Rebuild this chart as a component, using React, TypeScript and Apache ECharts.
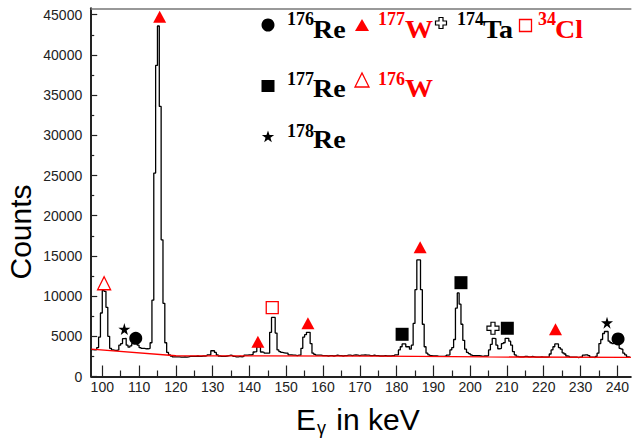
import React, { useEffect, useRef } from "react";
import * as echarts from "echarts";

// Spectrum: histogram bins of 0.5 keV starting at 97 keV
const binStart = 97;
const binWidth = 0.5;
const counts097 = [3350, 3300, 3350, 3600, 4900, 7900];
const counts100 = [10700, 10600, 8600, 5000, 3500, 3300, 3250, 3250, 3300, 3900, 4100, 4700, 4750, 3900, 3650, 3800, 4100, 4300, 4300, 3900];
const counts110 = [3600, 3500, 3500, 3450, 3450, 3500, 4200, 9500, 25300, 38700, 43600, 33600, 17000, 9100, 4200, 3000, 2700, 2550, 2450, 2450];
const counts120 = [2450, 2450, 2400, 2400, 2450, 2400, 2450, 2500, 2500, 2500, 2500, 2550, 2500, 2500, 2550, 2550, 2600, 2700, 2700, 3200];
const counts130 = [3200, 3000, 2700, 2550, 2500, 2500, 2500, 2550, 2600, 2650, 2600, 2500, 2450, 2450, 2500, 2450, 2500, 2650, 2650, 2700];
const counts140 = [2700, 2750, 3050, 3100, 3700, 3700, 3050, 3000, 2900, 2900, 2900, 5500, 7350, 7350, 5400, 3300, 3100, 3000, 2950, 2900];
const counts150 = [2900, 2700, 2700, 2650, 2650, 2600, 2650, 2650, 3500, 4900, 5200, 5500, 5500, 4100, 2900, 2750, 2650, 2650, 2650, 2600];
const counts160 = [2600, 2600, 2550, 2600, 2600, 2550, 2600, 2650, 2600, 2600, 2550, 2600, 2600, 2650, 2650, 2600, 2650, 2700, 2650, 2600];
const counts170 = [2650, 2650, 2700, 2650, 2650, 2600, 2600, 2650, 2600, 2600, 2550, 2550, 2550, 2600, 2550, 2550, 2550, 2600, 2600, 2700];
const counts180 = [2700, 3300, 3700, 4050, 4050, 3700, 3700, 3400, 3900, 6600, 10800, 14500, 14500, 10800, 6500, 3700, 2900, 2700, 2600, 2550];
const counts190 = [2550, 2550, 2500, 2500, 2500, 2500, 2550, 2650, 2700, 3300, 3600, 4600, 8500, 10400, 9000, 6500, 4500, 3400, 3000, 2850];
const counts200 = [2700, 2600, 2600, 2600, 2600, 2550, 2500, 2550, 2550, 2600, 3300, 4000, 4750, 4700, 3900, 3450, 3500, 4100, 4200, 4750];
const counts210 = [4750, 4400, 3900, 3100, 2700, 2500, 2450, 2450, 2450, 2500, 2500, 2450, 2450, 2500, 2450, 2400, 2400, 2400, 2450, 2400];
const counts220 = [2400, 2400, 2450, 2800, 3300, 3700, 4050, 4050, 3600, 3400, 2950, 2800, 2550, 2500, 2400, 2400, 2400, 2400, 2350, 2400];
const counts230 = [2400, 2650, 2700, 2700, 2600, 2400, 2400, 2350, 2500, 2900, 4100, 4600, 5350, 5600, 5600, 4400, 4200, 4100, 4300, 4350];
const counts240 = [4000, 3500, 3400, 2900, 2700, 2450, 2400];

const spectrum = [
  ...counts097, ...counts100, ...counts110, ...counts120, ...counts130, ...counts140,
  ...counts150, ...counts160, ...counts170, ...counts180, ...counts190, ...counts200,
  ...counts210, ...counts220, ...counts230, ...counts240,
];

// Red background fit
const bgEnergy = [97, 120, 175, 205, 243.7];
const bgCounts = [3400, 2580, 2530, 2430, 2380];

// Peak identification markers
const re176E = [109.1, 240.2];
const re176C = [4750, 4670];
const w177E = [115.6, 142.3, 155.9, 186.4, 223.2];
const w177C = [44760, 4330, 6620, 16070, 5870];
const ta174E = [206.2];
const ta174C = [6000];
const cl34E = [146.2];
const cl34C = [8560];
const re177E = [181.5, 197.5, 210.1];
const re177C = [5250, 11670, 6000];
const w176E = [100.5];
const w176C = [11600];
const re178E = [106.0, 237.2];
const re178C = [5900, 6700];

const xMajor = [100, 110, 120, 130, 140, 150, 160, 170, 180, 190, 200, 210, 220, 230, 240];
const xMinor = [105, 115, 125, 135, 145, 155, 165, 175, 185, 195, 205, 215, 225, 235];
const yMajor = [0, 5000, 10000, 15000, 20000, 25000, 30000, 35000, 40000, 45000];
const yMinor = [2500, 7500, 12500, 17500, 22500, 27500, 32500, 37500, 42500];

const STAR = "path://M50,0 L61,35 L98,35 L68,57 L79,91 L50,70 L21,91 L32,57 L2,35 L39,35 Z";
const CROSS = "path://M33,0 L67,0 L67,33 L100,33 L100,67 L67,67 L67,100 L33,100 L33,67 L0,67 L0,33 L33,33 Z";

function starPts(cx: number, cy: number, R: number, r: number) {
  const pts: number[][] = [];
  for (let i = 0; i < 10; i++) {
    const a = -Math.PI / 2 + (i * Math.PI) / 5;
    const rr = i % 2 === 0 ? R : r;
    pts.push([cx + rr * Math.cos(a), cy + rr * Math.sin(a)]);
  }
  return pts;
}
function crossPts(cx: number, cy: number, h: number, a: number) {
  return [
    [cx - a, cy - h], [cx + a, cy - h], [cx + a, cy - a], [cx + h, cy - a], [cx + h, cy + a],
    [cx + a, cy + a], [cx + a, cy + h], [cx - a, cy + h], [cx - a, cy + a], [cx - h, cy + a],
    [cx - h, cy - a], [cx - a, cy - a],
  ];
}

const SERIF = '"Liberation Serif", "Times New Roman", serif';
const SANS = '"Liberation Sans", Arial, sans-serif';

function supText(x: number, y: number, text: string, fill: string) {
  return { type: "text", x, y, z: 100, style: { text, fill, fontFamily: SERIF, fontWeight: "bold", fontSize: 18, align: "left", verticalAlign: "middle" } };
}
function mainText(x: number, y: number, text: string, fill: string) {
  return { type: "text", x, y, z: 100, scaleX: 1.12, style: { text, fill, fontFamily: SERIF, fontWeight: "bold", fontSize: 25, align: "left", verticalAlign: "middle" } };
}

export default function App() {
  const ref = useRef<HTMLDivElement>(null);
  useEffect(() => {
    if (!ref.current) return;
    const chart = echarts.init(ref.current, null, { renderer: "svg" });
    const specData = spectrum.map((c, i) => [binStart + i * binWidth, c]);
    specData.push([binStart + spectrum.length * binWidth, spectrum[spectrum.length - 1]]);
    const pairs = (e: number[], c: number[]) => e.map((v, i) => [v, c[i]]);
    const xMin = 97, xMax = 243.66, yMax = 45800;
    const axisColor = "#222";
    const plain = (v: number) => String(v);

    chart.setOption({
      animation: false,
      backgroundColor: "#ffffff",
      grid: { left: 91.24, right: 0, top: 8.3, bottom: 61.5 },
      xAxis: [
        {
          type: "value", min: xMin, max: xMax, position: "bottom",
          axisLine: { show: true, lineStyle: { color: axisColor, width: 2 } },
          axisTick: { show: true, inside: true, length: 11, customValues: xMajor, lineStyle: { color: axisColor, width: 1.2 } },
          axisLabel: { show: true, customValues: xMajor, formatter: plain, fontSize: 14, color: "#222", fontFamily: SANS, margin: 3 },
          splitLine: { show: false },
        },
        {
          type: "value", min: xMin, max: xMax, position: "bottom",
          axisLine: { show: false },
          axisTick: { show: true, inside: true, length: 6, customValues: xMinor, lineStyle: { color: axisColor, width: 1.2 } },
          axisLabel: { show: false },
          splitLine: { show: false },
        },
        {
          type: "value", min: xMin, max: xMax, position: "top",
          axisLine: { show: true, lineStyle: { color: "#777", width: 1.5 } },
          axisTick: { show: false }, axisLabel: { show: false }, splitLine: { show: false },
        },
      ],
      yAxis: [
        {
          type: "value", min: 0, max: yMax, position: "left",
          axisLine: { show: true, lineStyle: { color: axisColor, width: 2 } },
          axisTick: { show: true, inside: true, length: 6, customValues: yMajor, lineStyle: { color: axisColor, width: 1.2 } },
          axisLabel: { show: true, customValues: yMajor, formatter: plain, fontSize: 14, color: "#222", fontFamily: SANS, margin: 9 },
          splitLine: { show: false },
        },
        {
          type: "value", min: 0, max: yMax, position: "left",
          axisLine: { show: false },
          axisTick: { show: true, inside: true, length: 3, customValues: yMinor, lineStyle: { color: axisColor, width: 1.2 } },
          axisLabel: { show: false }, splitLine: { show: false },
        },
      ],
      series: [
        {
          type: "line", step: "end", data: specData, symbol: "none", xAxisIndex: 0, yAxisIndex: 0,
          lineStyle: { color: "#000", width: 1.3 }, z: 2, silent: true,
        },
        {
          type: "line", data: pairs(bgEnergy, bgCounts), symbol: "none", xAxisIndex: 0, yAxisIndex: 0,
          lineStyle: { color: "#ff0000", width: 1.3 }, z: 3, silent: true,
        },
        { type: "scatter", data: pairs(re176E, re176C), symbol: "circle", symbolSize: 13, itemStyle: { color: "#000", opacity: 1 }, z: 5 },
        { type: "scatter", data: pairs(w177E, w177C), symbol: "triangle", symbolSize: [13, 12], itemStyle: { color: "#ff0000", opacity: 1 }, z: 5 },
        { type: "scatter", data: pairs(ta174E, ta174C), symbol: CROSS, symbolSize: 12, itemStyle: { color: "#fff", borderColor: "#000", borderWidth: 1.2, opacity: 1 }, z: 5 },
        { type: "scatter", data: pairs(cl34E, cl34C), symbol: "rect", symbolSize: 12, itemStyle: { color: "#fff", borderColor: "#ff0000", borderWidth: 1.3, opacity: 1 }, z: 5 },
        { type: "scatter", data: pairs(re177E, re177C), symbol: "rect", symbolSize: 13, itemStyle: { color: "#000", opacity: 1 }, z: 5 },
        { type: "scatter", data: pairs(w176E, w176C), symbol: "triangle", symbolSize: [13, 13], itemStyle: { color: "#fff", borderColor: "#ff0000", borderWidth: 1.3, opacity: 1 }, z: 5 },
        { type: "scatter", data: pairs(re178E, re178C), symbol: STAR, symbolSize: 12, itemStyle: { color: "#000", opacity: 1 }, z: 5 },
      ],
      graphic: [
        // Axis titles
        { type: "text", x: 20, y: 232, rotation: Math.PI / 2, style: { text: "Counts", fontFamily: SANS, fontSize: 30, fill: "#000", align: "center", verticalAlign: "middle" } },
        { type: "text", x: 296, y: 419, style: { text: "E", fontFamily: SANS, fontSize: 30, fill: "#000", align: "left", verticalAlign: "middle" } },
        { type: "text", x: 317, y: 428, style: { text: "γ", fontFamily: SANS, fontSize: 18, fill: "#000", align: "left", verticalAlign: "middle" } },
        { type: "text", x: 328, y: 419, style: { text: " in keV", fontFamily: SANS, fontSize: 30, fill: "#000", align: "left", verticalAlign: "middle" } },
        // Legend row 1
        { type: "circle", shape: { cx: 268, cy: 25, r: 6.5 }, style: { fill: "#000" }, z: 100 },
        supText(287, 19, "176", "#000"),
        mainText(313, 29.5, "Re", "#000"),
        { type: "polygon", shape: { points: [[355, 31], [369, 31], [362, 19]] }, style: { fill: "#ff0000" }, z: 100 },
        supText(378, 19, "177", "#ff0000"),
        mainText(405, 29.5, "W", "#ff0000"),
        { type: "polygon", shape: { points: crossPts(441, 23, 5.5, 2) }, style: { fill: "#fff", stroke: "#000", lineWidth: 1.2 }, z: 100 },
        supText(457, 19, "174", "#000"),
        mainText(483, 29.5, "Ta", "#000"),
        { type: "rect", shape: { x: 519.5, y: 19.5, width: 12, height: 12 }, style: { fill: "#fff", stroke: "#ff0000", lineWidth: 1.3 }, z: 100 },
        supText(538, 19, "34", "#ff0000"),
        mainText(555, 29.5, "Cl", "#ff0000"),
        // Legend row 2
        { type: "rect", shape: { x: 261.5, y: 80, width: 13, height: 12 }, style: { fill: "#000" }, z: 100 },
        supText(287, 79, "177", "#000"),
        mainText(313, 88.5, "Re", "#000"),
        { type: "polygon", shape: { points: [[355, 87], [369, 87], [362, 73]] }, style: { fill: "#fff", stroke: "#ff0000", lineWidth: 1.3 }, z: 100 },
        supText(378, 79, "176", "#ff0000"),
        mainText(405, 88.5, "W", "#ff0000"),
        // Legend row 3
        { type: "polygon", shape: { points: starPts(268, 137, 6.5, 2.6) }, style: { fill: "#000" }, z: 100 },
        supText(287, 131, "178", "#000"),
        mainText(313, 139.5, "Re", "#000"),
      ],
    });
    return () => chart.dispose();
  }, []);
  return <div ref={ref} style={{ position: "fixed", left: 0, top: 0, width: 632, height: 438 }} />;
}
